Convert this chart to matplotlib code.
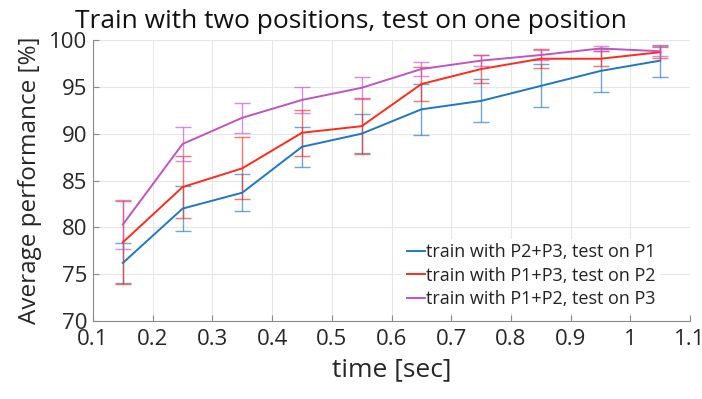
import numpy as np
import matplotlib.pyplot as plt

plt.rcParams['font.family'] = ['Open Sans', 'DejaVu Sans']

t = [0.15, 0.25, 0.35, 0.45, 0.55, 0.65, 0.75, 0.85, 0.95, 1.05]

p1_mean = [76.2, 82.0, 83.7, 88.6, 90.0, 92.6, 93.5, 95.1, 96.7, 97.8]
p1_err = [2.1, 2.4, 2.0, 2.15, 2.1, 2.7, 2.3, 2.3, 2.3, 1.7]

p2_mean = [78.4, 84.3, 86.3, 90.1, 90.8, 95.3, 96.9, 98.0, 98.0, 98.7]
p2_err = [4.4, 3.3, 3.3, 2.45, 3.0, 1.8, 1.5, 1.0, 0.8, 0.6]

p3_mean = [80.3, 88.9, 91.7, 93.6, 94.9, 96.9, 97.8, 98.4, 99.1, 98.8]
p3_err = [2.6, 1.8, 1.6, 1.4, 1.2, 0.75, 0.55, 0.5, 0.25, 0.55]

labels = [
    "train with P2+P3, test on P1",
    "train with P1+P3, test on P2",
    "train with P1+P2, test on P3",
]
colors = ["#1f77c4", "#ff2a1a", "#c054c0"]

xticks = [0.1, 0.2, 0.3, 0.4, 0.5, 0.6, 0.7, 0.8, 0.9, 1.0, 1.1]
xticklabels = ["0.1", "0.2", "0.3", "0.4", "0.5", "0.6", "0.7", "0.8", "0.9", "1", "1.1"]
yticks = [70, 75, 80, 85, 90, 95, 100]

fig = plt.figure(figsize=(7.02, 3.99), dpi=100)
ax = fig.add_axes([0.1325, 0.1955, 0.8505, 0.7042])

series = [(p1_mean, p1_err), (p2_mean, p2_err), (p3_mean, p3_err)]
for (m, e), c, lab in zip(series, colors, labels):
    ax.errorbar(t, m, yerr=e, fmt="none", ecolor=c, elinewidth=1.0,
                capsize=6, capthick=1.0, alpha=0.65, zorder=2)
    ax.plot(t, m, color=c, lw=1.4, label=lab, zorder=3)

ax.set_xlim(0.1, 1.1)
ax.set_ylim(70, 100)
ax.set_xticks(xticks)
ax.set_xticklabels(xticklabels)
ax.set_yticks(yticks)
ax.grid(True, color="#e6e6e6", lw=0.8)
ax.set_axisbelow(True)

for s in ["top", "right"]:
    ax.spines[s].set_visible(False)
for s in ["left", "bottom"]:
    ax.spines[s].set_color("#8a8a8a")
    ax.spines[s].set_linewidth(0.8)

ax.tick_params(direction="in", length=4, color="#8a8a8a", labelsize=16,
               labelcolor="#262626", pad=4)
ax.tick_params(axis="x", pad=6)

ax.set_xlabel("time [sec]", fontsize=19, color="#262626", labelpad=5)
ax.set_ylabel("Average performance [%]", fontsize=17.5, color="#262626", labelpad=5)
fig.text(0.5, 0.945, "Train with two positions, test on one position",
         fontsize=19, color="#111111", ha="center", va="center")

leg = ax.legend(loc="lower right", frameon=True, fontsize=13, handlelength=1.0,
                handletextpad=0.1, labelspacing=0.3, borderaxespad=0.15,
                borderpad=0.25, bbox_to_anchor=(0.955, 0.02))
leg.get_frame().set_edgecolor("none")
leg.get_frame().set_facecolor("white")
leg.get_frame().set_alpha(1.0)
for txt in leg.get_texts():
    txt.set_color("#222222")

fig.savefig("out.png", dpi=100)
